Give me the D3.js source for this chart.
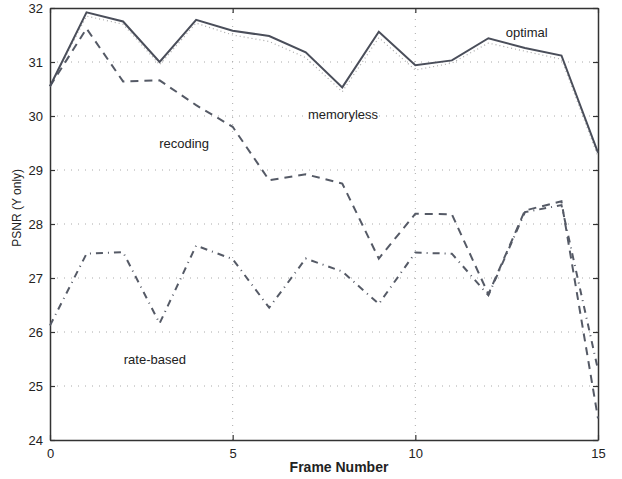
<!DOCTYPE html>
<html>
<head>
<meta charset="utf-8" />
<title>PSNR per frame</title>
<script src="https://d3js.org/d3.v7.min.js"></script>
<style>
  body { margin: 0; background: #fff; }
  text { font-family: "Liberation Sans", Arial, sans-serif; fill: #222; }
</style>
</head>
<body>
<div id="chart"></div>
<script>
// data
const frames = d3.range(0, 16);
const optimal    = [30.55, 31.92, 31.75, 31.0, 31.78, 31.58, 31.48, 31.18, 30.53, 31.56, 30.94, 31.03, 31.44, 31.26, 31.12, 29.32];
const memoryless = [30.55, 31.85, 31.7, 30.95, 31.72, 31.5, 31.38, 31.08, 30.45, 31.45, 30.85, 30.98, 31.35, 31.2, 31.05, 29.25];
const recoding   = [30.55, 31.62, 30.64, 30.66, 30.2, 29.8, 28.81, 28.92, 28.75, 27.36, 28.19, 28.18, 26.7, 28.25, 28.42, 24.4];
const rateBased  = [26.12, 27.45, 27.48, 26.16, 27.6, 27.35, 26.45, 27.36, 27.12, 26.52, 27.47, 27.45, 26.68, 28.22, 28.35, 25.3];
const xTicks = [0, 5, 10, 15];
const yTicks = [24, 25, 26, 27, 28, 29, 30, 31, 32];

const width = 622, height = 479;
const margin = { left: 50, right: 24, top: 8, bottom: 39 };

const svg = d3.select("#chart").append("svg")
    .attr("width", width)
    .attr("height", height);

const x = d3.scaleLinear().domain([0, 15]).range([margin.left, width - margin.right]);
const y = d3.scaleLinear().domain([24, 32]).range([height - margin.bottom, margin.top]);

// dotted grid
const grid = svg.append("g").attr("stroke", "#aaa").attr("stroke-width", 1).attr("stroke-dasharray", "1,6");
grid.selectAll("line.h").data(yTicks.slice(1, -1)).enter().append("line")
    .attr("x1", x(0)).attr("x2", x(15))
    .attr("y1", d => y(d)).attr("y2", d => y(d));
grid.selectAll("line.v").data(xTicks.slice(1, -1)).enter().append("line")
    .attr("y1", y(24)).attr("y2", y(32))
    .attr("x1", d => x(d)).attr("x2", d => x(d));

// axes, ticks pointing inward
const axisStyle = g => {
    g.select(".domain").attr("stroke", "#333").attr("stroke-width", 1.5);
    g.selectAll(".tick line").attr("stroke", "#333").attr("stroke-width", 1.2);
    g.selectAll("text").attr("font-size", 13).attr("fill", "#222");
};
svg.append("g").attr("transform", `translate(0,${y(24)})`)
    .call(d3.axisBottom(x).tickValues(xTicks).tickSize(-5).tickPadding(9).tickSizeOuter(0))
    .call(axisStyle);
svg.append("g").attr("transform", `translate(0,${y(32)})`)
    .call(d3.axisTop(x).tickValues(xTicks).tickSize(-5).tickFormat("").tickSizeOuter(0))
    .call(axisStyle);
svg.append("g").attr("transform", `translate(${x(0)},0)`)
    .call(d3.axisLeft(y).tickValues(yTicks).tickSize(-5).tickPadding(7).tickSizeOuter(0))
    .call(axisStyle);
svg.append("g").attr("transform", `translate(${x(15)},0)`)
    .call(d3.axisRight(y).tickValues(yTicks).tickSize(-5).tickFormat("").tickSizeOuter(0))
    .call(axisStyle);

// series
const line = vals => d3.line().x((d, i) => x(frames[i])).y(d => y(d))(vals);
const series = [
    { vals: memoryless, dash: "1,3", w: 1.2, color: "#aaa" },
    { vals: rateBased, dash: "7,5,1,5", w: 2, color: "#555a66" },
    { vals: recoding, dash: "8,6", w: 2, color: "#555a66" },
    { vals: optimal, dash: null, w: 2, color: "#4a4e5a" }
];
svg.append("g").selectAll("path").data(series).enter().append("path")
    .attr("d", d => line(d.vals))
    .attr("fill", "none")
    .attr("stroke", d => d.color)
    .attr("stroke-width", d => d.w)
    .attr("stroke-dasharray", d => d.dash);

// curve labels
const labels = [
    { t: "optimal", fx: 13.05, v: 31.54 },
    { t: "memoryless", fx: 8.02, v: 30.02 },
    { t: "recoding", fx: 3.67, v: 29.5 },
    { t: "rate-based", fx: 2.87, v: 25.5 }
];
svg.append("g").selectAll("text").data(labels).enter().append("text")
    .attr("x", d => x(d.fx)).attr("y", d => y(d.v))
    .attr("text-anchor", "middle").attr("dy", "0.35em")
    .attr("font-size", 13).attr("fill", "#333")
    .text(d => d.t);

svg.append("text")
    .attr("x", x(7.5) + 15).attr("y", 472)
    .attr("text-anchor", "middle").attr("font-size", 14).attr("font-weight", "bold")
    .text("Frame Number");

svg.append("text")
    .attr("transform", `translate(21,${y(28.3)}) rotate(-90)`)
    .attr("text-anchor", "middle").attr("font-size", 12)
    .text("PSNR (Y only)");
</script>
</body>
</html>
